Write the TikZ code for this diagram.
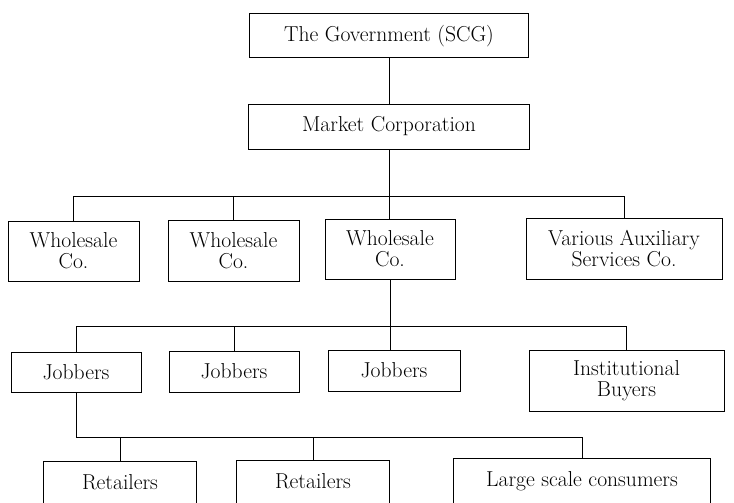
\documentclass[tikz,border=0pt]{standalone}
\begin{document}
\begin{tikzpicture}[x=1pt, y=-1pt,
    plainbox/.style={inner sep=0pt, font=\fontsize{21.6}{21}\selectfont},
    box/.style={plainbox, draw, line width=1pt, align=center},
    openbox/.style={plainbox, anchor=north, text height=28pt, text depth=8pt},
    link/.style={line width=1pt}]
    \useasboundingbox (0,0) rectangle (734,503);

    % Government and corporation
    \node[box, minimum width=279, minimum height=44] (gov) at (389,36) {The Government (SCG)};
    \node[box, minimum width=281, minimum height=45] (market) at (389,126.5) {Market Corporation};

    % Wholesale level
    \node[box, minimum width=131, minimum height=60] (ws1) at (73.5,251) {Wholesale\\Co.};
    \node[box, minimum width=131, minimum height=61] (ws2) at (233.5,250.5) {Wholesale\\Co.};
    \node[box, minimum width=130, minimum height=60] (ws3) at (390,249) {Wholesale\\Co.};
    \node[box, minimum width=196, minimum height=61] (vas) at (624,248.5) {Various Auxiliary\\Services Co.};

    % Jobbers level
    \node[box, minimum width=130, minimum height=40] (j1) at (76,372) {Jobbers};
    \node[box, minimum width=130, minimum height=41] (j2) at (234,371.5) {Jobbers};
    \node[box, minimum width=132, minimum height=41] (j3) at (394,370.5) {Jobbers};
    \node[box, minimum width=195, minimum height=61] (ib) at (626.5,380.5) {Institutional\\Buyers};

    % Bottom level (open at the page edge)
    \node[openbox, minimum width=152] (r1) at (120,461) {Retailers};
    \node[openbox, minimum width=152] (r2) at (313,460) {Retailers};
    \node[openbox, minimum width=256] (lsc) at (582,458) {Large scale consumers};
    \coordinate (edge) at (0,503);
    \foreach \b in {r1,r2,lsc}
        \draw[link] (\b.north west |- edge) -- (\b.north west) -- (\b.north east) -- (\b.north east |- edge);

    % Connectors
    \coordinate (bus1) at (389,196);
    \coordinate (bus2) at (390,326);
    \coordinate (bus3) at (76,437);

    \draw[link] (gov.south) -- (market.north);
    \draw[link] (market.south) -- (market.south |- ws3.north);
    \draw[link] (ws1.north) |- (bus1);
    \draw[link] (ws2.north) |- (bus1);
    \draw[link] (vas.north) |- (bus1);

    \draw[link] (ws3.south) -- (ws3.south |- j3.north);
    \draw[link] (j1.north) |- (bus2);
    \draw[link] (j2.north) |- (bus2);
    \draw[link] (ib.north) |- (bus2);

    \draw[link] (j1.south) -- (bus3);
    \draw[link] (r1.north) |- (bus3);
    \draw[link] (r2.north) |- (bus3);
    \draw[link] (lsc.north) |- (bus3);
\end{tikzpicture}
\end{document}
